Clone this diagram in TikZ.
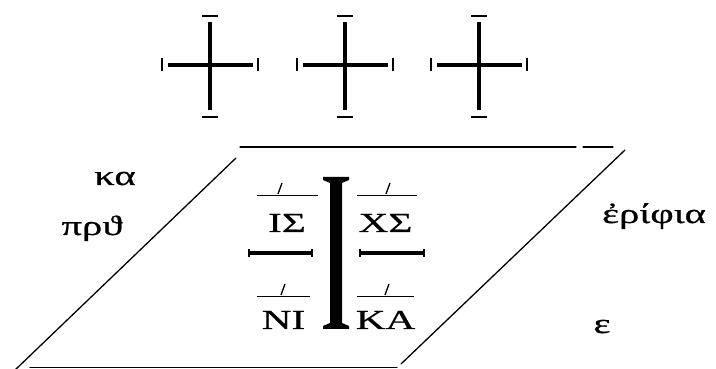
\documentclass[tikz,border=0pt]{standalone}
\usepackage{fontspec}
\newfontfamily\grfont[FakeStretch=1.45,FakeBold=0.8]{Liberation Serif}
\newfontfamily\capfont[FakeStretch=1.5,FakeBold=0.5]{Liberation Serif}
\tikzset{
  frame/.style={line width=1.3pt, line cap=round},
  stem/.style={line width=3.3pt},
  tip/.style={line width=2.8pt},
  word/.style={font=\grfont\fontsize{28}{30}\selectfont, inner sep=0pt, anchor=base},
  mono/.style={font=\capfont\fontsize{27.5}{30}\selectfont, inner sep=0pt, anchor=base},
  titlo/.style={line width=0.9pt},
  acc/.style={line width=1.3pt},
  arm/.style={line width=3.4pt}
}

\begin{document}
\begin{tikzpicture}[x=1pt,y=1pt]
  \useasboundingbox (0,0) rectangle (716,369);
  % crosses on top
  \foreach \cx in {210,345,479}{
    \draw[stem] (\cx,259) -- (\cx,347);
    \draw[stem] (\cx-42,304) -- (\cx+43,304);
    \draw[tip] (\cx-8,353) -- (\cx+8,353);
    \draw[tip] (\cx-8,252) -- (\cx+8,252);
    \draw[tip] (\cx-48,297.5) -- (\cx-48,310.5);
    \draw[tip] (\cx+48,297.5) -- (\cx+48,310.5);
  }
  % slab
  \draw[frame] (240,222) -- (576,222);
  \draw[frame] (583,222) -- (613,222);
  \draw[frame] (236,211) -- (14,-2);
  \draw[frame] (625,219) -- (401,5);
  \draw[frame] (30,1.5) -- (397,1.5);
  % labels
  \node[word] (ka) at (115,184) {κα};
  \node[word] (proth) at (92,134) {πρϑ};
  \node[word] (erifia) at (654,146) {ἐρίφια};
  \node[word] (eps) at (602,36) {ε};
  % monogram
  \fill (323,192) -- (349,192) -- (349,189) -- (342,186) -- (342,46)
    -- (349,43) -- (349,40) -- (323,40) -- (323,43) -- (330,46)
    -- (330,186) -- (323,189) -- cycle;
  \draw[arm] (250,116) -- (311,116);
  \draw[arm] (361,116) -- (423,116);
  \draw[tip] (249,112) -- (249,120);
  \draw[tip] (312,112) -- (312,120);
  \draw[tip] (360,112) -- (360,120);
  \draw[tip] (424,112) -- (424,120);
  \node[mono] (is) at (287,137) {ΙΣ};
  \node[mono] (xs) at (385.5,137) {ΧΣ};
  \node[mono] (ni) at (283.5,40) {ΝΙ};
  \node[mono] (kA) at (385.5,40) {ΚΑ};
  \draw[titlo] (257,174) -- (318,174);
  \draw[titlo] (357,174) -- (417,174);
  \draw[titlo] (257,73) -- (310,73);
  \draw[titlo] (357,73) -- (414,73);
  \draw[acc] (278,175) -- (282,186);
  \draw[acc] (386,175) -- (390,186);
  \draw[acc] (281,74) -- (285,85);
  \draw[acc] (385,74) -- (389,85);
\end{tikzpicture}
\end{document}
